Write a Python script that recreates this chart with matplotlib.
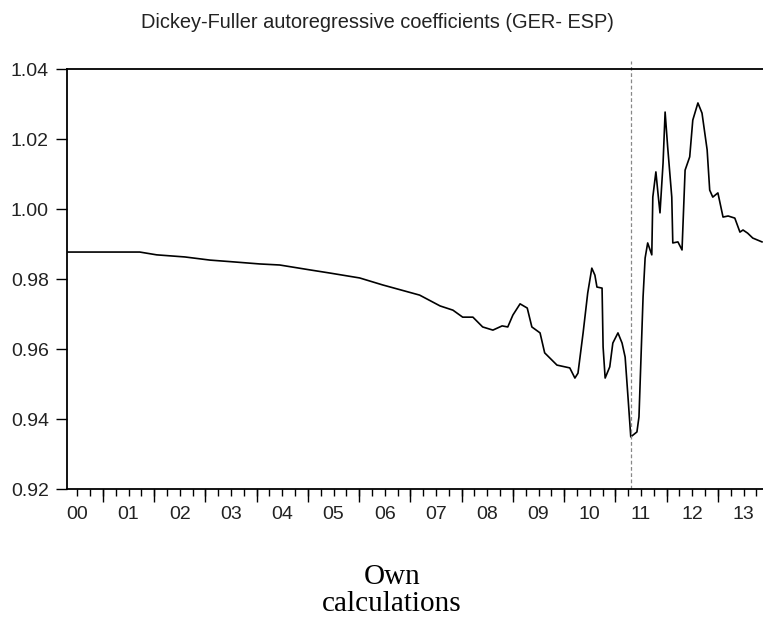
import matplotlib
matplotlib.use("Agg")
import matplotlib.pyplot as plt
import numpy as np

# Decimal-year positions and Dickey-Fuller coefficient values
dates = [2000.32, 2001.72, 2002.05, 2002.60, 2003.09, 2003.54, 2004.06, 2004.45,
         2005.04, 2005.43, 2006.01, 2006.46, 2007.18, 2007.58, 2007.83, 2008.02,
         2008.22, 2008.41, 2008.61, 2008.79, 2008.90, 2009.00, 2009.14, 2009.28,
         2009.37, 2009.53, 2009.62, 2009.86, 2010.11, 2010.21, 2010.27, 2010.37,
         2010.46, 2010.54, 2010.60, 2010.64, 2010.74, 2010.76, 2010.80, 2010.89,
         2010.95, 2011.05, 2011.13, 2011.19, 2011.25, 2011.30, 2011.42, 2011.46,
         2011.50, 2011.54, 2011.58, 2011.63, 2011.71, 2011.73, 2011.79, 2011.83,
         2011.87, 2011.93, 2011.97, 2012.02, 2012.10, 2012.12, 2012.22, 2012.30,
         2012.36, 2012.45, 2012.51, 2012.61, 2012.69, 2012.79, 2012.84, 2012.90,
         2013.00, 2013.10, 2013.20, 2013.33, 2013.43, 2013.49, 2013.58, 2013.68,
         2013.86]
coef = [0.9877, 0.9877, 0.9869, 0.9863, 0.9854, 0.9849, 0.9843, 0.9840,
        0.9826, 0.9817, 0.9803, 0.9783, 0.9754, 0.9723, 0.9711, 0.9691,
        0.9691, 0.9663, 0.9654, 0.9666, 0.9663, 0.9697, 0.9729, 0.9717,
        0.9663, 0.9646, 0.9589, 0.9554, 0.9546, 0.9517, 0.9531, 0.9646,
        0.9760, 0.9831, 0.9811, 0.9777, 0.9774, 0.9606, 0.9517, 0.9549,
        0.9617, 0.9646, 0.9617, 0.9577, 0.9454, 0.9349, 0.9363, 0.9406,
        0.9577, 0.9749, 0.9860, 0.9903, 0.9869, 1.0034, 1.0106, 1.0046,
        0.9989, 1.0131, 1.0277, 1.0177, 1.0034, 0.9903, 0.9906, 0.9883,
        1.0111, 1.0149, 1.0254, 1.0303, 1.0274, 1.0169, 1.0054, 1.0034,
        1.0046, 0.9977, 0.9980, 0.9974, 0.9934, 0.9940, 0.9931, 0.9917,
        0.9906]
break_date = 2011.30
years = list(range(2000, 2014))
year_labels = ["00", "01", "02", "03", "04", "05", "06", "07", "08", "09",
               "10", "11", "12", "13"]
yticks = [0.92, 0.94, 0.96, 0.98, 1.00, 1.02, 1.04]

W, H = 763, 624
fig = plt.figure(figsize=(W / 100, H / 100), dpi=100)
ax = fig.add_axes([67 / W, 1 - 489 / H, 1 - 67 / W, (489 - 69) / H])

ax.plot(dates, coef, color="black", lw=1.2)
ax.axvline(break_date, color="#888888", lw=0.9, ls=(0, (3, 2)), ymax=1.02, clip_on=False)

ax.set_xlim(2000.3, 2013.88)
ax.set_ylim(0.92, 1.04)

ax.set_yticks(yticks)
ax.set_yticklabels([f"{v:.2f}" for v in yticks])

# year labels at mid-year (no tick), quarterly minor ticks, long year ticks on a secondary axis
ax.set_xticks([y + 0.5 for y in years])
ax.set_xticklabels(year_labels)
ax.xaxis.remove_overlapping_locs = False
ax.set_xticks([y + q / 4 for y in years for q in range(4) if 2000.3 <= y + q / 4 <= 2013.88], minor=True)
ax.tick_params(axis="x", which="major", length=0, pad=12, labelsize=14, labelcolor="#222222")
ax.tick_params(axis="x", which="minor", length=5, width=1.0, direction="out")
sec = ax.secondary_xaxis("bottom")
sec.set_xticks([y for y in years if y > 2000.3])
sec.set_xticklabels([])
sec.tick_params(length=9, width=1.0, direction="out")
sec.spines["bottom"].set_visible(False)

ax.tick_params(axis="y", length=8, width=1.0, direction="out", pad=5, labelsize=14,
               labelcolor="#222222")

for s in ["left", "bottom", "top"]:
    ax.spines[s].set_linewidth(1.3)
ax.spines["right"].set_visible(False)

for t in ax.get_xticklabels() + ax.get_yticklabels():
    t.set_fontfamily("Liberation Sans")

fig.text(377 / W, 1 - 22 / H, "Dickey-Fuller autoregressive coefficients (GER- ESP)",
         ha="center", va="center", fontsize=14.4, family="Liberation Sans", color="#222222")
fig.text(392 / W, 1 - 564 / H, "Own\ncalculations", ha="center", va="top",
         multialignment="center", fontsize=21, family="Liberation Serif",
         linespacing=1.05, color="black")

fig.savefig("out.png", dpi=100)
